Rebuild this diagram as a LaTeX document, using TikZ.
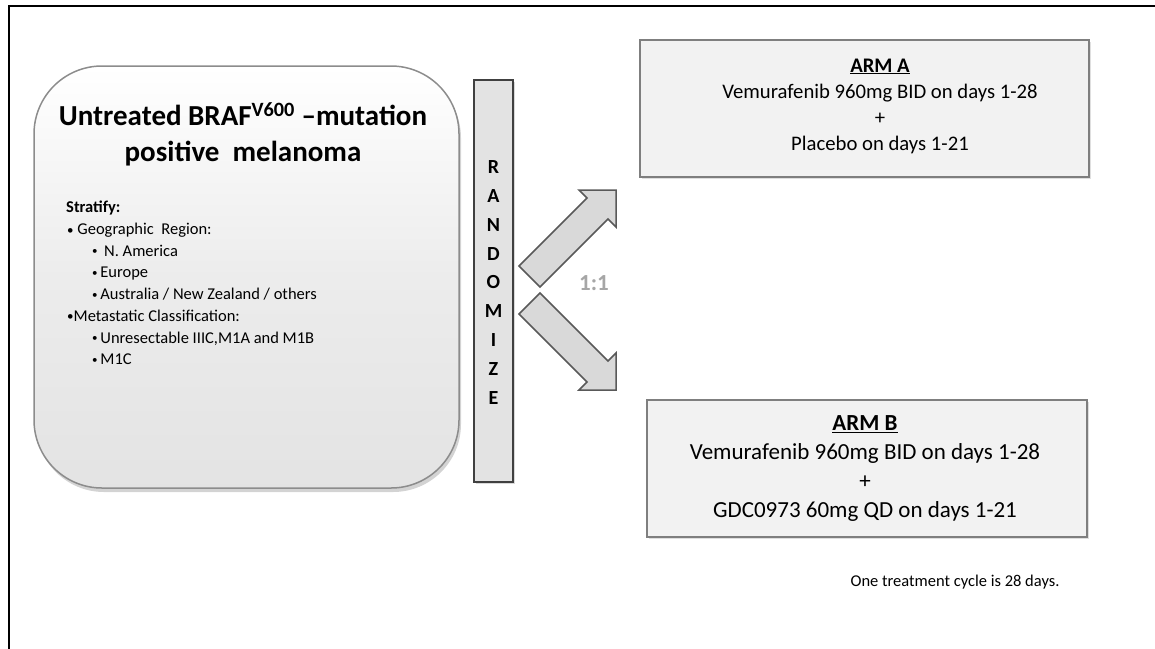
\documentclass[tikz,border=0pt]{standalone}
\usepackage{fontspec}
\setmainfont{Carlito}
\usetikzlibrary{shadows}
\definecolor{popfill}{HTML}{ECECEC}
\definecolor{popdraw}{HTML}{8C8C8C}
\definecolor{barfill}{HTML}{E3E3E3}
\definecolor{bardraw}{HTML}{404040}
\definecolor{armfill}{HTML}{F2F2F2}
\definecolor{armdraw}{HTML}{7F7F7F}
\definecolor{arrfill}{HTML}{D9D9D9}
\definecolor{arrdraw}{HTML}{595959}
\definecolor{ratiocol}{HTML}{A6A6A6}
\newcommand{\topbul}{{\fontsize{13}{13}\selectfont\raisebox{0.5pt}{•}}}
\newcommand{\subbul}{{\fontsize{11}{11}\selectfont\raisebox{1.5pt}{•}}}
\begin{document}
\begin{tikzpicture}[x=1pt,y=-1pt,
  armbox/.style={draw=armdraw, fill=armfill, line width=2.5pt, inner sep=0pt,
    drop shadow={shadow xshift=1.5pt, shadow yshift=-1.5pt, opacity=0.25}},
  blockarrow/.style={draw=arrdraw, fill=arrfill, line width=1.5pt, line join=miter}]
\useasboundingbox (0,0) rectangle (1155,648);
\draw[line width=2.2pt] (9,650) -- (9,6) -- (1156,6);

% population box
\node[draw=popdraw, line width=1.5pt, rounded corners=68pt, inner sep=0pt,
  minimum width=425pt, minimum height=422pt,
  top color=white, bottom color=popfill!92!gray, middle color=popfill,
  drop shadow={shadow xshift=2pt, shadow yshift=-4pt, opacity=0.35}] (pop) at (246.5,277) {};
\node[font=\bfseries\fontsize{29}{36}\selectfont, align=center] (title) at (243,134)
  {Untreated BRAF\textsuperscript{V600} –mutation\\positive\ \ melanoma};
\node[anchor=west, align=left, inner sep=0pt, font=\fontsize{16.5}{21.7}\selectfont] (strat) at (66,283)
  {\textbf{Stratify:}\\
   \hspace*{1pt}\topbul\ Geographic\ \ Region:\\
   \hspace*{26pt}\subbul\ \,N. America\\
   \hspace*{26pt}\subbul\,Europe\\
   \hspace*{26pt}\subbul\,Australia / New Zealand / others\\
   \hspace*{1pt}\topbul Metastatic Classification:\\
   \hspace*{26pt}\subbul\,Unresectable IIIC,M1A and M1B\\
   \hspace*{26pt}\subbul\,M1C};

% randomize bar
\node[draw=bardraw, fill=barfill, line width=1.5pt, inner sep=0pt,
  minimum width=39pt, minimum height=402pt,
  drop shadow={shadow xshift=1.5pt, shadow yshift=-2pt, opacity=0.3}] (rand) at (493.5,281) {};
\node[font=\bfseries\fontsize{20}{28.9}\selectfont, align=center] (randtxt) at (493.5,282.5)
  {R\\A\\N\\D\\O\\M\\I\\Z\\E};

% block arrows
\draw[blockarrow] (519,266) -- (587,198) -- (579,190) -- (616,190) -- (616,227) -- (608,219) -- (540,287) -- cycle;
\draw[blockarrow] (519,314) -- (587,382) -- (579,390) -- (616,390) -- (616,353) -- (608,361) -- (540,293) -- cycle;
\node[font=\bfseries\fontsize{23}{26}\selectfont, text=ratiocol] (ratio) at (594,283) {1:1};

% arms
\node[armbox, minimum width=449pt, minimum height=137pt] (armA) at (864.5,108.5) {};
\node[font=\fontsize{20.7}{26}\selectfont, align=center] (armAtxt) at (880,106)
  {\textbf{\underline{ARM A}}\\Vemurafenib 960mg BID on days 1-28\\+\\Placebo on days 1-21};
\node[armbox, minimum width=440pt, minimum height=137pt] (armB) at (867,468.5) {};
\node[font=\fontsize{23}{29}\selectfont, align=center] (armBtxt) at (865,468.5)
  {\textbf{\underline{ARM B}}\\Vemurafenib 960mg BID on days 1-28\\+\\GDC0973 60mg QD on days 1-21};

\node[font=\fontsize{16.5}{19}\selectfont] (note) at (955,582) {One treatment cycle is 28 days.};
\end{tikzpicture}
\end{document}
